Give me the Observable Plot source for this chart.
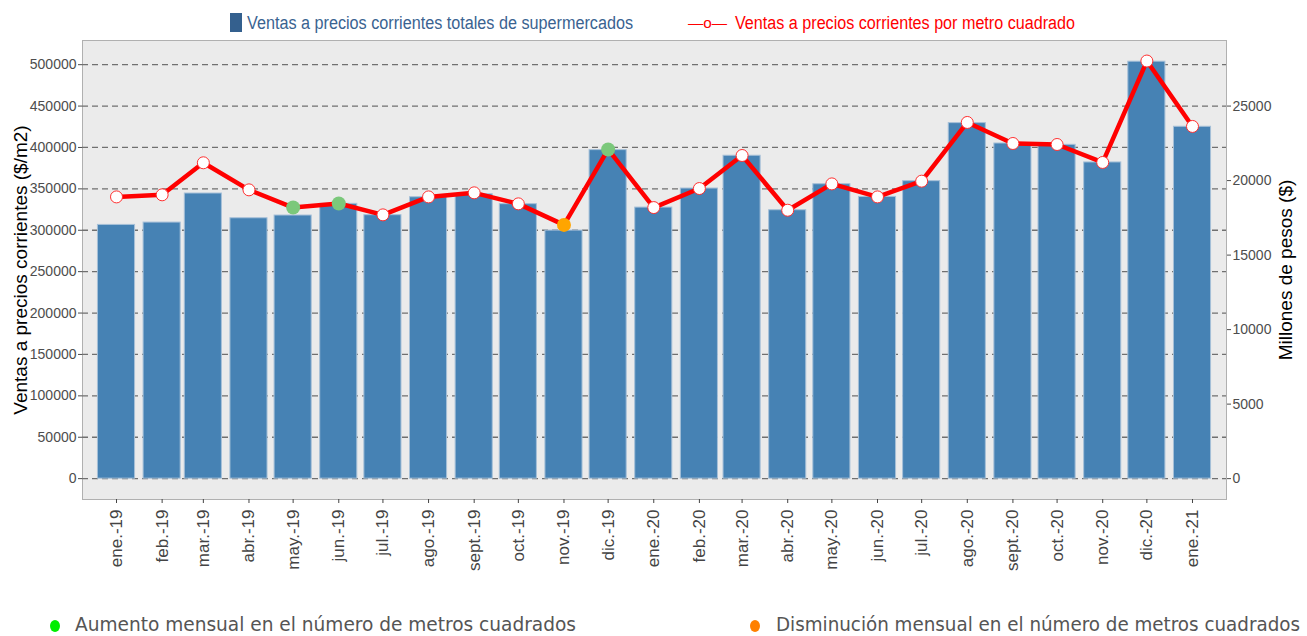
<!DOCTYPE html>
<html>
<head>
<meta charset="utf-8">
<script src="https://cdn.jsdelivr.net/npm/d3@7"></script>
<script src="https://cdn.jsdelivr.net/npm/@observablehq/plot@0.6"></script>
<style>
  html, body { margin:0; padding:0; background:#fff; }
  #wrap { position:relative; width:1307px; height:636px; overflow:hidden; font-family:"Liberation Sans", Arial, sans-serif; }
  #legTop, #legBottom, #chart { position:absolute; left:0; }
  #legTop { top:0; }
  #chart { top:40px; }
  #legBottom { top:598px; }
</style>
</head>
<body>
<div id="wrap">
  <svg id="legTop" width="1307" height="40"></svg>
  <div id="chart"></div>
  <svg id="legBottom" width="1307" height="38"></svg>
</div>
<script>
// ---- data ----
const fechas = ["2019-01-01","2019-02-01","2019-03-01","2019-04-01","2019-05-01","2019-06-01",
  "2019-07-01","2019-08-01","2019-09-01","2019-10-01","2019-11-01","2019-12-01",
  "2020-01-01","2020-02-01","2020-03-01","2020-04-01","2020-05-01","2020-06-01",
  "2020-07-01","2020-08-01","2020-09-01","2020-10-01","2020-11-01","2020-12-01","2021-01-01"];
const etiquetas = ["ene.-19","feb.-19","mar.-19","abr.-19","may.-19","jun.-19","jul.-19","ago.-19",
  "sept.-19","oct.-19","nov.-19","dic.-19","ene.-20","feb.-20","mar.-20","abr.-20","may.-20",
  "jun.-20","jul.-20","ago.-20","sept.-20","oct.-20","nov.-20","dic.-20","ene.-21"];
// Ventas totales (millones de pesos, eje derecho)
const ventasTotales = [17025,17183,19133,17472,17656,18439,17678,18883,19083,18417,16644,22044,
  18189,19467,21667,18011,19756,18906,19961,23856,22489,22400,21217,27978,23611];
// Ventas por metro cuadrado ($/m2, eje izquierdo)
const ventasM2 = [340300,342800,381500,348800,327400,332300,318600,340300,345200,331900,306500,397600,
  327400,350400,390300,324200,356000,340300,359300,430200,404800,403600,381900,504400,425400];
// Variación mensual del número de metros cuadrados
const variacion = ["","","","","aumento","aumento","","","","","disminucion","aumento",
  "","","","","","","","","","","","",""];
const ticksIzq = [0,50000,100000,150000,200000,250000,300000,350000,400000,450000,500000];
const ticksDer = [0,5000,10000,15000,20000,25000];
const serieBarras = "Ventas a precios corrientes totales de supermercados";
const serieLinea = "Ventas a precios corrientes por metro cuadrado";
const leyendaAumento = "Aumento mensual en el número de metros cuadrados";
const leyendaDisminucion = "Disminución mensual en el número de metros cuadrados";
const tituloIzq = "Ventas a precios corrientes ($/m2)";
const tituloDer = "Millones de pesos ($)";

// ---- build ----
const factor = 18; // eje derecho = eje izquierdo / 18
const DAY = 86400000;
const halfBar = 12.6 * DAY;
const table = fechas.map((f, i) => ({
  date: new Date(f + "T00:00:00Z"),
  label: etiquetas[i],
  total: ventasTotales[i],
  m2: ventasM2[i],
  varia: variacion[i]
}));
const labelOf = new Map(table.map(d => [+d.date, d.label]));
const xStart = new Date(+table[0].date - 23.1 * DAY);
const xEnd = new Date(+table[table.length - 1].date + 23.1 * DAY);
const dotFill = v => v === "aumento" ? "#7bc87b" : v === "disminucion" ? "#ffa500" : "#ffffff";

const chart = Plot.plot({
  width: 1307,
  height: 560,
  marginLeft: 82,
  marginRight: 81,
  marginTop: 0,
  marginBottom: 101,
  x: {type: "utc", domain: [xStart, xEnd]},
  y: {domain: [-25200, 529200]},
  style: {fontFamily: "'Liberation Sans', Arial, sans-serif", background: "transparent", overflow: "visible"},
  marks: [
    Plot.frame({fill: "#ebebeb", stroke: "#b0b0b0"}),
    Plot.gridY(ticksIzq, {stroke: "#707070", strokeOpacity: 1, strokeWidth: 1.3, strokeDasharray: "6,4"}),
    Plot.rectY(table, {
      x1: d => new Date(+d.date - halfBar),
      x2: d => new Date(+d.date + halfBar),
      y1: 0,
      y2: d => d.total * factor,
      fill: "#4682b4",
      stroke: "#a6c0d8",
      strokeWidth: 1
    }),
    Plot.line(table, {x: "date", y: "m2", stroke: "#ff0000", strokeWidth: 4.5}),
    Plot.dot(table.filter(d => !d.varia), {x: "date", y: "m2", r: 6, fill: "#ffffff", stroke: "#ff3030", strokeWidth: 1}),
    Plot.dot(table.filter(d => d.varia), {x: "date", y: "m2", r: 7, fill: d => dotFill(d.varia), stroke: "none"}),
    Plot.axisY(ticksIzq, {anchor: "left", tickFormat: d3.format("d"), tickSize: 4, tickPadding: 2,
      fontSize: 14, color: "#4d4d4d", label: null}),
    Plot.axisY(ticksDer.map(v => v * factor), {anchor: "right", tickFormat: v => d3.format("d")(Math.round(v / factor)),
      tickSize: 4, tickPadding: 2, fontSize: 14, color: "#4d4d4d", label: null}),
    Plot.axisX(table.map(d => d.date), {tickFormat: d => labelOf.get(+d), tickRotate: -90, tickSize: 4,
      tickPadding: 6, fontSize: 17, color: "#444444", label: null}),
    Plot.text([tituloIzq], {frameAnchor: "left", dx: -62, rotate: -90, fontSize: 19, fill: "#000", textAnchor: "middle"}),
    Plot.text([tituloDer], {frameAnchor: "right", dx: 59, rotate: -90, fontSize: 19, fill: "#000", textAnchor: "middle"})
  ]
});
document.getElementById("chart").appendChild(chart);

// ---- legends ----
const sans = "'Liberation Sans', Arial, sans-serif";
const legTop = d3.select("#legTop");
legTop.append("rect").attr("x", 230).attr("y", 13).attr("width", 12).attr("height", 19).attr("fill", "#34608e");
legTop.append("text").attr("x", 247).attr("y", 29).attr("font-size", 18)
  .attr("font-family", sans)
  .attr("textLength", 386).attr("lengthAdjust", "spacingAndGlyphs")
  .attr("fill", "#3a6391").text(serieBarras);
legTop.append("text").attr("x", 688).attr("y", 28).attr("font-size", 15.5)
  .attr("font-family", sans)
  .attr("textLength", 39).attr("lengthAdjust", "spacingAndGlyphs")
  .attr("fill", "#ff0000").text("—o—");
legTop.append("text").attr("x", 735).attr("y", 29).attr("font-size", 18)
  .attr("font-family", sans)
  .attr("textLength", 340).attr("lengthAdjust", "spacingAndGlyphs")
  .attr("fill", "#ff0000").text(serieLinea);

const legBottom = d3.select("#legBottom");
legBottom.append("ellipse").attr("cx", 55).attr("cy", 28).attr("rx", 5).attr("ry", 6).attr("fill", "#00ee00");
legBottom.append("text").attr("x", 75).attr("y", 33).attr("font-size", 20)
  .attr("font-family", "'DejaVu Sans Condensed', 'DejaVu Sans', sans-serif")
  .attr("textLength", 501).attr("lengthAdjust", "spacingAndGlyphs")
  .attr("fill", "#555555").text(leyendaAumento);
legBottom.append("ellipse").attr("cx", 755).attr("cy", 28).attr("rx", 5).attr("ry", 6).attr("fill", "#ff8000");
legBottom.append("text").attr("x", 776).attr("y", 33).attr("font-size", 20)
  .attr("font-family", "'DejaVu Sans Condensed', 'DejaVu Sans', sans-serif")
  .attr("textLength", 524).attr("lengthAdjust", "spacingAndGlyphs")
  .attr("fill", "#555555").text(leyendaDisminucion);
</script>
</body>
</html>
